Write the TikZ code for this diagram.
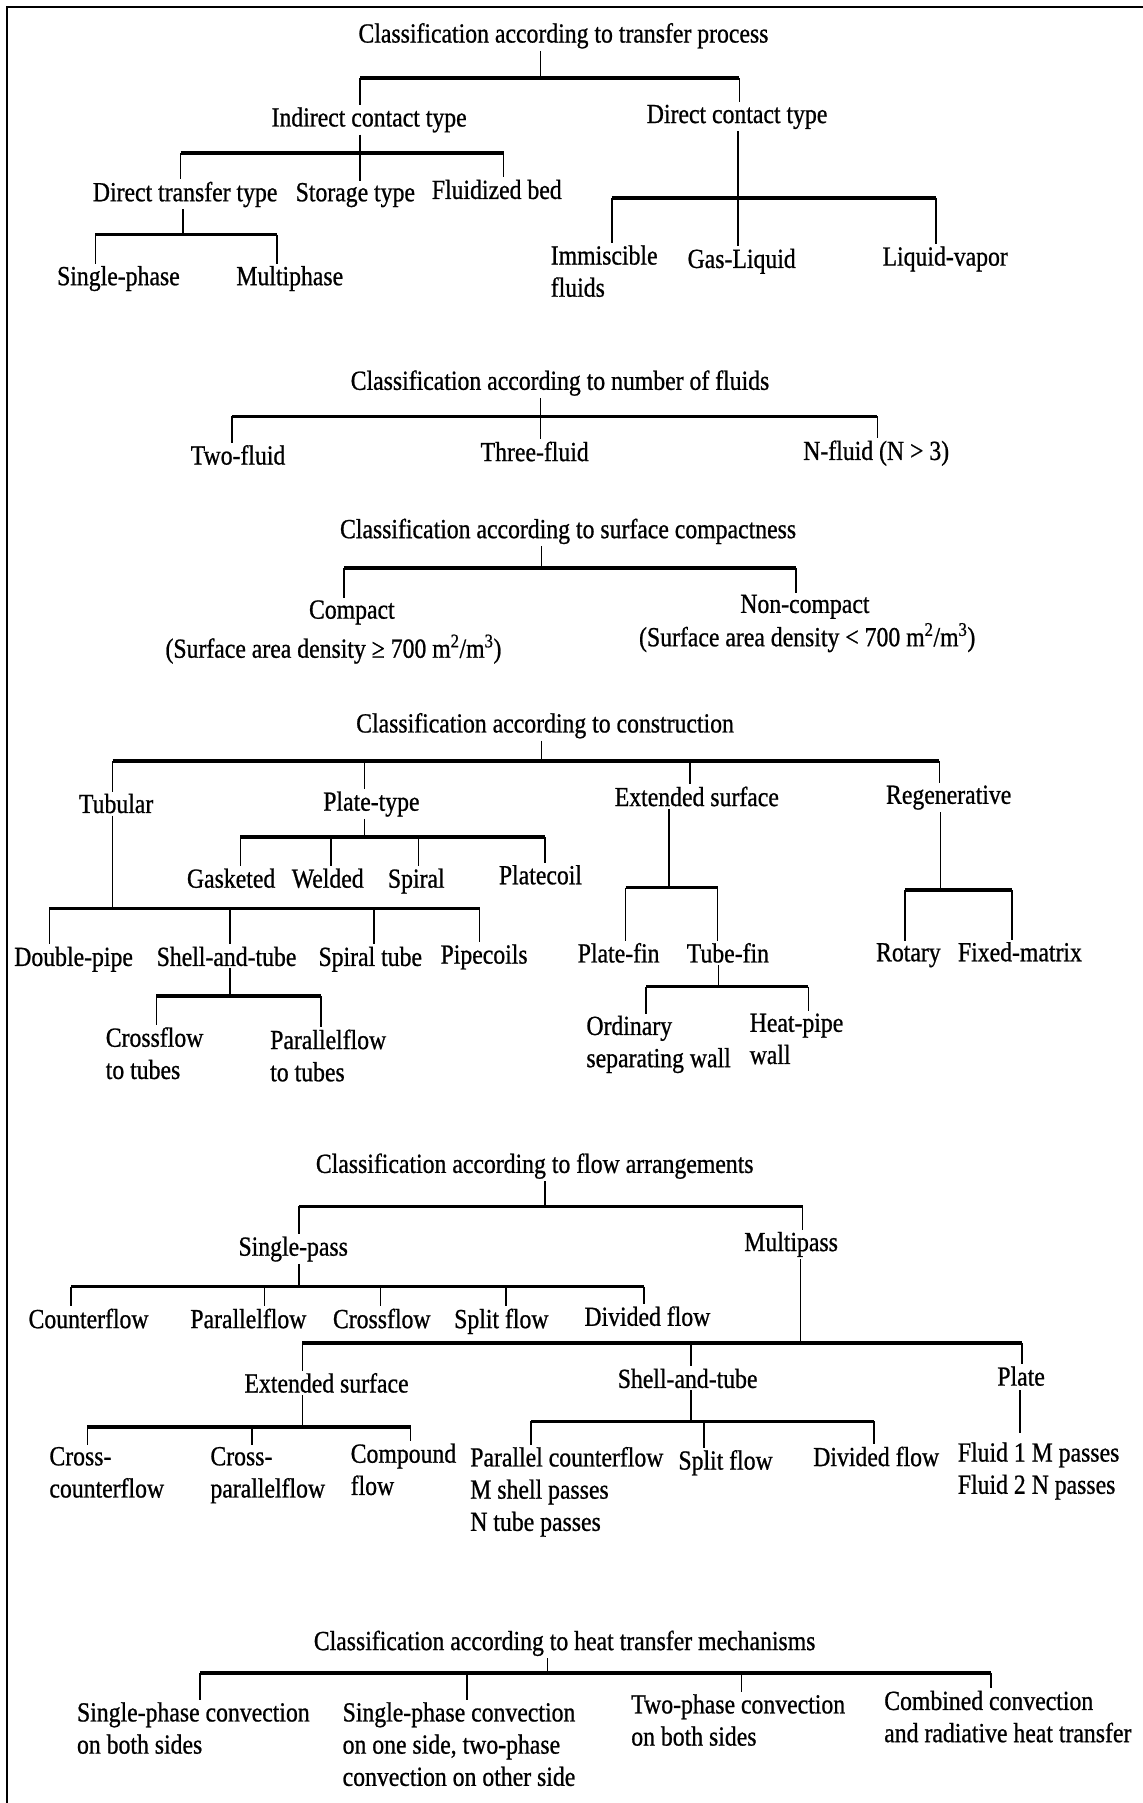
\documentclass[tikz,border=0pt]{standalone}
\usepackage{fontspec}
\setmainfont{Liberation Serif}[FakeStretch=0.86,FakeBold=0.8]
\begin{document}
\begin{tikzpicture}[x=1pt,y=-1pt,
  every node/.style={font=\fontsize{24}{28}\selectfont, inner sep=0pt, outer sep=0pt},
  lbl/.style={anchor=base},
  ml/.style={anchor=north west, align=left, yshift=19.6pt, execute at begin node=\strut},
  bar/.style={line width=3pt},
  vl/.style={line width=1.4pt},
  drop/.style={vl, shorten >=2pt},
  trunk/.style={vl, shorten <=2pt}]
\useasboundingbox (0,0) rectangle (994,1568);
\fill[white] (0,0) rectangle (994,1568);
\draw[line width=1.8pt] (6,1568) -- (6,6) -- (994,6);

% ---------- Section 1: transfer process ----------
\node[lbl] (t1) at (490,37) {Classification according to transfer process};
\coordinate (a1j) at (470,68); \coordinate (a1l) at (313,68); \coordinate (a1r) at (643,68);
\node[lbl] (ind) at (321,110) {Indirect contact type};
\node[lbl] (dir) at (641,107) {Direct contact type};
\draw[trunk] (t1.south -| a1j) -- (a1j);
\draw[bar] (a1l) -- (a1r);
\draw[drop] (a1l) -- (a1l |- ind.north);
\draw[drop] (a1r) -- (a1r |- dir.north);

\coordinate (a2j) at (313,133); \coordinate (a2l) at (157,133); \coordinate (a2r) at (438,133);
\node[lbl] (dtt) at (161,175) {Direct transfer type};
\node[lbl] (sto) at (309,175) {Storage type};
\node[lbl] (flb) at (432,173) {Fluidized bed};
\draw[trunk] (ind.south -| a2j) -- (a2j);
\draw[bar] (a2l) -- (a2r);
\draw[drop] (a2l) -- (a2l |- dtt.north);
\draw[drop] (a2j) -- (a2j |- sto.north);
\draw[drop] (a2r) -- (a2r |- flb.north);

\coordinate (a3j) at (159,204); \coordinate (a3l) at (83,204); \coordinate (a3r) at (241,204);
\node[lbl] (sph) at (103,248) {Single-phase};
\node[lbl] (mph) at (252,248) {Multiphase};
\draw[trunk] (dtt.south -| a3j) -- (a3j);
\draw[bar] (a3l) -- (a3r);
\draw[drop] (a3l) -- (a3l |- sph.north);
\draw[drop] (a3r) -- (a3r |- mph.north);

\coordinate (a4j) at (642,172); \coordinate (a4l) at (532,172); \coordinate (a4r) at (814,172);
\node[ml] (imm) at (479,233) {Immiscible\\fluids};
\node[lbl] (gl) at (645,233) {Gas-Liquid};
\node[lbl] (lv) at (822,231) {Liquid-vapor};
\draw[trunk] (dir.south -| a4j) -- (a4j);
\draw[bar] (a4l) -- (a4r);
\draw[drop] (a4l) -- (a4l |- imm.north);
\draw[drop] (a4j) -- (a4j |- gl.north);
\draw[drop] (a4r) -- (a4r |- lv.north);

% ---------- Section 2: number of fluids ----------
\node[lbl] (t2) at (487,339) {Classification according to number of fluids};
\coordinate (b1j) at (470,362); \coordinate (b1l) at (202,362); \coordinate (b1r) at (763,362);
\node[lbl] (two) at (207,404) {Two-fluid};
\node[lbl] (three) at (465,401) {Three-fluid};
\node[lbl] (nfl) at (762,400) {N-fluid (N > 3)};
\draw[trunk] (t2.south -| b1j) -- (b1j);
\draw[bar] (b1l) -- (b1r);
\draw[drop] (b1l) -- (b1l |- two.north);
\draw[drop] (b1j) -- (b1j |- three.north);
\draw[drop] (b1r) -- (b1r |- nfl.north);

% ---------- Section 3: surface compactness ----------
\node[lbl] (t3) at (494,468) {Classification according to surface compactness};
\coordinate (c1j) at (471,494); \coordinate (c1l) at (299,494); \coordinate (c1r) at (692,494);
\node[lbl] (cmp) at (306,538) {Compact};
\node[lbl] (cmpd) at (290,572) {(Surface area density ≥ 700 m\textsuperscript{2}/m\textsuperscript{3})};
\node[lbl] (nc) at (700,533) {Non-compact};
\node[lbl] (ncd) at (702,562) {(Surface area density < 700 m\textsuperscript{2}/m\textsuperscript{3})};
\draw[trunk] (t3.south -| c1j) -- (c1j);
\draw[bar] (c1l) -- (c1r);
\draw[drop] (c1l) -- (c1l |- cmp.north);
\draw[drop] (c1r) -- (c1r |- nc.north);

% ---------- Section 4: construction ----------
\node[lbl] (t4) at (474,637) {Classification according to construction};
\coordinate (d1j) at (471,662); \coordinate (d1l) at (98,662); \coordinate (d1a) at (317,662);
\coordinate (d1b) at (600,662); \coordinate (d1r) at (817,662);
\node[lbl] (tub) at (101,707) {Tubular};
\node[lbl] (plt) at (323,705) {Plate-type};
\node[lbl] (ext) at (606,701) {Extended surface};
\node[lbl] (reg) at (825,699) {Regenerative};
\draw[trunk] (t4.south -| d1j) -- (d1j);
\draw[bar] (d1l) -- (d1r);
\draw[drop] (d1l) -- (d1l |- tub.north);
\draw[drop] (d1a) -- (d1a |- plt.north);
\draw[drop] (d1b) -- (d1b |- ext.north);
\draw[drop] (d1r) -- (d1r |- reg.north);

\coordinate (d2j) at (98,790); \coordinate (d2l) at (43,790); \coordinate (d2a) at (200,790);
\coordinate (d2b) at (325,790); \coordinate (d2r) at (417,790);
\node[lbl] (dpp) at (64,840) {Double-pipe};
\node[lbl] (sat1) at (197,840) {Shell-and-tube};
\node[lbl] (spt) at (322,840) {Spiral tube};
\node[lbl] (pcs) at (421,838) {Pipecoils};
\draw[trunk] (tub.south -| d2j) -- (d2j);
\draw[bar] (d2l) -- (d2r);
\draw[drop] (d2l) -- (d2l |- dpp.north);
\draw[drop] (d2a) -- (d2a |- sat1.north);
\draw[drop] (d2b) -- (d2b |- spt.north);
\draw[drop] (d2r) -- (d2r |- pcs.north);

\coordinate (d3j) at (200,866); \coordinate (d3l) at (136,866); \coordinate (d3r) at (279,866);
\node[ml] (cft) at (92,913) {Crossflow\\to tubes};
\node[ml] (pft) at (235,915) {Parallelflow\\to tubes};
\draw[trunk] (sat1.south -| d3j) -- (d3j);
\draw[bar] (d3l) -- (d3r);
\draw[drop] (d3l) -- (d3l |- cft.north);
\draw[drop] (d3r) -- (d3r |- pft.north);

\coordinate (d4j) at (317,728); \coordinate (d4l) at (209,728); \coordinate (d4a) at (288,728);
\coordinate (d4b) at (364,728); \coordinate (d4r) at (474,728);
\node[lbl] (gsk) at (201,772) {Gasketed};
\node[lbl] (wld) at (285,772) {Welded};
\node[lbl] (spi) at (362,772) {Spiral};
\node[lbl] (pcl) at (470,769) {Platecoil};
\draw[trunk] (plt.south -| d4j) -- (d4j);
\draw[bar] (d4l) -- (d4r);
\draw[drop] (d4l) -- (d4l |- gsk.north);
\draw[drop] (d4a) -- (d4a |- wld.north);
\draw[drop] (d4b) -- (d4b |- spi.north);
\draw[drop] (d4r) -- (d4r |- pcl.north);

\coordinate (d5j) at (582,772); \coordinate (d5l) at (544,772); \coordinate (d5r) at (624,772);
\node[lbl] (pfn) at (538,837) {Plate-fin};
\node[lbl] (tfn) at (633,837) {Tube-fin};
\draw[trunk] (ext.south -| d5j) -- (d5j);
\draw[bar] (d5l) -- (d5r);
\draw[drop] (d5l) -- (d5l |- pfn.north);
\draw[drop] (d5r) -- (d5r |- tfn.north);

\coordinate (d6j) at (625,858); \coordinate (d6l) at (562,858); \coordinate (d6r) at (703,858);
\node[ml] (ord) at (510,903) {Ordinary\\separating wall};
\node[ml] (hpw) at (652,901) {Heat-pipe\\wall};
\draw[trunk] (tfn.south -| d6j) -- (d6j);
\draw[bar] (d6l) -- (d6r);
\draw[drop] (d6l) -- (d6l |- ord.north);
\draw[drop] (d6r) -- (d6r |- hpw.north);

\coordinate (d7j) at (818,774); \coordinate (d7l) at (787,774); \coordinate (d7r) at (880,774);
\node[lbl] (rot) at (790,836) {Rotary};
\node[lbl] (fmx) at (887,836) {Fixed-matrix};
\draw[trunk] (reg.south -| d7j) -- (d7j);
\draw[bar] (d7l) -- (d7r);
\draw[drop] (d7l) -- (d7l |- rot.north);
\draw[drop] (d7r) -- (d7r |- fmx.north);

% ---------- Section 5: flow arrangements ----------
\node[lbl] (t5) at (465,1020) {Classification according to flow arrangements};
\coordinate (e1j) at (474,1049); \coordinate (e1l) at (260,1049); \coordinate (e1r) at (698,1049);
\node[lbl] (spass) at (255,1092) {Single-pass};
\node[lbl] (mpass) at (688,1088) {Multipass};
\draw[trunk] (t5.south -| e1j) -- (e1j);
\draw[bar] (e1l) -- (e1r);
\draw[drop] (e1l) -- (e1l |- spass.north);
\draw[drop] (e1r) -- (e1r |- mpass.north);

\coordinate (e2j) at (260,1119); \coordinate (e2l) at (62,1119); \coordinate (e2a) at (230,1119);
\coordinate (e2b) at (331,1119); \coordinate (e2c) at (440,1119); \coordinate (e2r) at (560,1119);
\node[lbl] (ctf) at (77,1155) {Counterflow};
\node[lbl] (plf) at (216,1155) {Parallelflow};
\node[lbl] (crf) at (332,1155) {Crossflow};
\node[lbl] (spf) at (436,1155) {Split flow};
\node[lbl] (dvf) at (563,1153) {Divided flow};
\draw[trunk] (spass.south -| e2j) -- (e2j);
\draw[bar] (e2l) -- (e2r);
\draw[drop] (e2l) -- (e2l |- ctf.north);
\draw[drop] (e2a) -- (e2a |- plf.north);
\draw[drop] (e2b) -- (e2b |- crf.north);
\draw[drop] (e2c) -- (e2c |- spf.north);
\draw[drop] (e2r) -- (e2r |- dvf.north);

\coordinate (e3j) at (696,1168); \coordinate (e3l) at (263,1168); \coordinate (e3m) at (601,1168);
\coordinate (e3r) at (889,1168);
\node[lbl] (esf) at (284,1211) {Extended surface};
\node[lbl] (sat2) at (598,1207) {Shell-and-tube};
\node[lbl] (plate) at (888,1205) {Plate};
\draw[trunk] (mpass.south -| e3j) -- (e3j);
\draw[bar] (e3l) -- (e3r);
\draw[drop] (e3l) -- (e3l |- esf.north);
\draw[drop] (e3m) -- (e3m |- sat2.north);
\draw[drop] (e3r) -- (e3r |- plate.north);

\coordinate (e4j) at (263,1241); \coordinate (e4l) at (76,1241); \coordinate (e4m) at (219,1241);
\coordinate (e4r) at (357,1241);
\node[ml] (ccf) at (43,1278) {Cross-\\counterflow};
\node[ml] (cpf) at (183,1278) {Cross-\\parallelflow};
\node[ml] (cmf) at (305,1275) {Compound\\flow};
\draw[trunk] (esf.south -| e4j) -- (e4j);
\draw[bar] (e4l) -- (e4r);
\draw[drop] (e4l) -- (e4l |- ccf.north);
\draw[drop] (e4m) -- (e4m |- cpf.north);
\draw[drop] (e4r) -- (e4r |- cmf.north);

\coordinate (e5j) at (601,1236); \coordinate (e5l) at (462,1236); \coordinate (e5m) at (612,1236);
\coordinate (e5r) at (760,1236);
\node[ml] (pcf) at (409,1278) {Parallel counterflow\\M shell passes\\N tube passes};
\node[lbl] (sf2) at (631,1278) {Split flow};
\node[lbl] (df2) at (762,1275) {Divided flow};
\draw[trunk] (sat2.south -| e5j) -- (e5j);
\draw[bar] (e5l) -- (e5r);
\draw[drop] (e5l) -- (e5l |- pcf.north);
\draw[drop] (e5m) -- (e5m |- sf2.north);
\draw[drop] (e5r) -- (e5r |- df2.north);

\coordinate (e6) at (887,1245);
\node[ml] (fld) at (833,1274) {Fluid 1 M passes\\Fluid 2 N passes};
\draw[vl, shorten <=4pt, shorten >=8pt] (plate.south -| e6) -- (e6 |- fld.north);

% ---------- Section 6: heat transfer mechanisms ----------
\node[lbl] (t6) at (491,1435) {Classification according to heat transfer mechanisms};
\coordinate (g1j) at (476,1455); \coordinate (g1l) at (174,1455); \coordinate (g1a) at (406,1455);
\coordinate (g1b) at (645,1455); \coordinate (g1r) at (862,1455);
\node[ml] (h1) at (67,1500) {Single-phase convection\\on both sides};
\node[ml] (h2) at (298,1500) {Single-phase convection\\on one side, two-phase\\convection on other side};
\node[ml] (h3) at (549,1493) {Two-phase convection\\on both sides};
\node[ml] (h4) at (769,1490) {Combined convection\\and radiative heat transfer};
\draw[trunk] (t6.south -| g1j) -- (g1j);
\draw[bar] (g1l) -- (g1r);
\draw[drop] (g1l) -- (g1l |- h1.north);
\draw[drop] (g1a) -- (g1a |- h2.north);
\draw[drop] (g1b) -- (g1b |- h3.north);
\draw[drop] (g1r) -- (g1r |- h4.north);
\end{tikzpicture}
\end{document}
